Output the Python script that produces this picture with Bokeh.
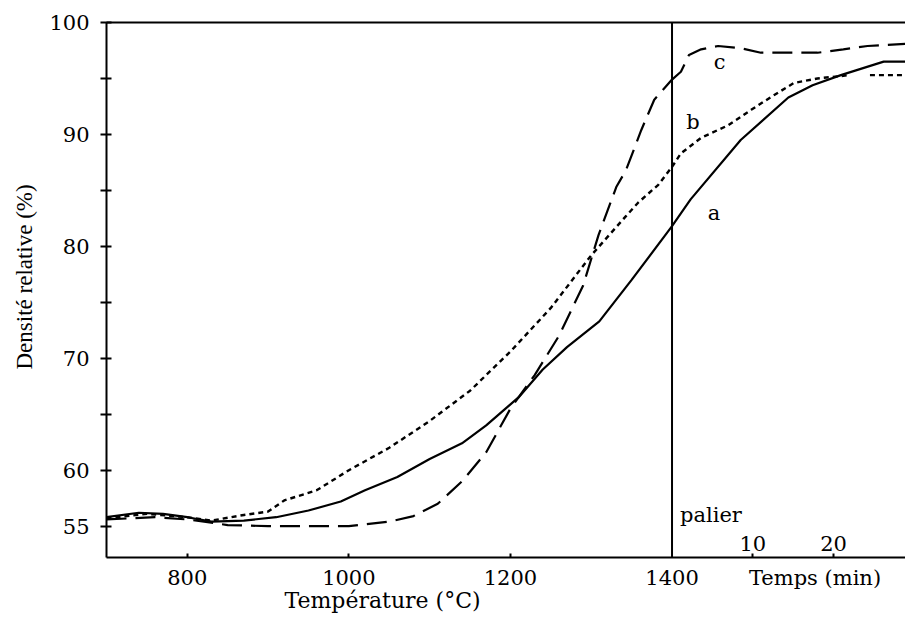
from bokeh.plotting import figure
from bokeh.models import Range1d, LinearAxis, FixedTicker, Span, Label, Title
from bokeh.core.properties import value
from bokeh.embed import file_html
from bokeh.resources import INLINE

# ---- data ----
T_START, T_PALIER, T_END = 700, 1400, 1689
MIN_SCALE = 10          # degC-equivalent width of one minute on the composite axis
Y_START, Y_END = 52.2, 100

TEMP_TICKS = [800, 1000, 1200, 1400]
TIME_TICKS = [10, 20]
TEMPS_LABEL_AT = 17.7   # minutes, centre of the "Temps (min)" caption
Y_TICKS = [55, 60, 70, 80, 90, 100]
Y_MINOR = [65, 75, 85, 95]

# curve a (solid)
TEMP_A = [700, 740, 770, 800, 830, 870, 910, 950, 990, 1020, 1060, 1100, 1140, 1170, 1210, 1240, 1270, 1310, 1350, 1400]
DENS_A = [55.8, 56.2, 56.1, 55.8, 55.4, 55.5, 55.8, 56.4, 57.2, 58.2, 59.4, 61.0, 62.4, 64.0, 66.5, 69.0, 71.0, 73.3, 77.0, 81.8]
TIME_A = [0, 2.3, 8.5, 14.4, 17.4, 20.9, 26.2, 28.9]
DENS_A_T = [81.8, 84.2, 89.5, 93.3, 94.4, 95.3, 96.5, 96.5]

# curve b (dotted)
TEMP_B = [700, 750, 800, 830, 870, 900, 920, 960, 1000, 1050, 1100, 1150, 1200, 1250, 1300, 1343, 1358, 1383, 1400]
DENS_B = [55.7, 56.1, 55.8, 55.5, 56.0, 56.3, 57.3, 58.2, 60.0, 62.0, 64.4, 67.1, 70.6, 74.5, 79.2, 82.7, 83.9, 85.5, 87.1]
TIME_B = [0, 1.1, 3.6, 6.9, 9.8, 12.6, 15.1, 18, 22, 23, 24.5, 28.9]
DENS_B_T = [87.1, 88.3, 89.7, 90.8, 92.2, 93.5, 94.6, 95.0, 95.3, float("nan"), 95.3, 95.3]

# curve c (dashed)
TEMP_C = [700, 760, 800, 850, 900, 1000, 1050, 1080, 1110, 1140, 1170, 1200, 1230, 1260, 1290, 1309, 1331, 1343, 1362, 1378, 1400]
DENS_C = [55.6, 55.8, 55.6, 55.1, 55.0, 55.0, 55.4, 55.9, 57.0, 59.0, 61.6, 65.5, 68.5, 72.0, 76.5, 81.0, 85.3, 86.8, 90.4, 93.1, 94.9]
TIME_C = [0, 1.1, 2.1, 3.6, 5.7, 8.5, 11, 18, 21.2, 24.2, 28.9]
DENS_C_T = [94.9, 95.6, 97.1, 97.6, 97.9, 97.7, 97.3, 97.3, 97.6, 97.9, 98.1]

CURVE_LABELS = ["a", "b", "c"]
CURVE_LABEL_POS = [(5.2, 83.0), (2.6, 91.1), (5.9, 96.5)]   # (minutes, density)

FONT = "DejaVu Serif"
FS = "21px"

p = figure(width=905, height=620,
           x_range=Range1d(T_START, T_END), y_range=Range1d(Y_START, Y_END),
           output_backend="svg", toolbar_location=None,
           min_border_left=104, min_border_right=0, min_border_top=22, min_border_bottom=63)
p.extra_x_ranges = {"time": Range1d((T_START - T_PALIER) / MIN_SCALE, (T_END - T_PALIER) / MIN_SCALE)}
p.grid.visible = False
p.outline_line_color = None
p.background_fill_color = "white"
p.border_fill_color = "white"

# bottom axis: labelled temperature ticks + "Temps (min)" caption; marks drawn as minor ticks
xa = p.xaxis[0]
time_ticks_T = [T_PALIER + t * MIN_SCALE for t in TIME_TICKS]
temps_T = int(round(T_PALIER + TEMPS_LABEL_AT * MIN_SCALE))
xa.ticker = FixedTicker(ticks=TEMP_TICKS + [temps_T], minor_ticks=TEMP_TICKS[:-1] + time_ticks_T)
xa.major_label_overrides = {temps_T: "Temps (min)"}
xa.major_tick_in = 0
xa.major_tick_out = 0
xa.minor_tick_in = 4
xa.minor_tick_out = 0
xa.minor_tick_line_width = 2
xa.minor_tick_line_color = "black"
xa.axis_line_width = 2
xa.major_label_standoff = 8
xa.major_label_text_font = FONT
xa.major_label_text_font_size = FS
xa.major_label_text_color = "black"

# left axis
ya = p.yaxis[0]
ya.ticker = FixedTicker(ticks=Y_TICKS, minor_ticks=Y_MINOR)
ya.major_tick_in = 5
ya.major_tick_out = 6
ya.minor_tick_in = 5
ya.minor_tick_out = 6
ya.axis_line_width = 2
ya.major_tick_line_width = 2
ya.minor_tick_line_width = 2
ya.minor_tick_line_color = "black"
ya.major_label_standoff = 11
ya.major_label_text_font = FONT
ya.major_label_text_font_size = FS
ya.major_label_text_color = "black"

# top frame line
top = LinearAxis(ticker=FixedTicker(ticks=[]), major_tick_in=0, major_tick_out=0,
                 minor_tick_in=0, minor_tick_out=0, major_label_standoff=0,
                 major_label_text_font_size="0px", axis_line_width=2)
p.add_layout(top, "above")

# axis titles
p.add_layout(Title(text="Température (°C)", align="left", offset=178, standoff=-10,
                   vertical_align="top", text_font=FONT, text_font_size="22px",
                   text_font_style="normal", text_color="black"), "below")
p.add_layout(Title(text="Densité relative (%)", align="left", offset=188, standoff=19,
                   vertical_align="bottom", text_font="Liberation Serif", text_font_size="23px",
                   text_font_style="normal", text_color="black"), "left")

# palier line
p.add_layout(Span(location=T_PALIER, dimension="height", line_color="black", line_width=2))

# curves
p.line(TEMP_A, DENS_A, line_color="black", line_width=2.2)
p.line(TIME_A, DENS_A_T, line_color="black", line_width=2.2, x_range_name="time")
p.line(TEMP_B, DENS_B, line_color="black", line_width=2.4, line_dash="5 4")
p.line(TIME_B, DENS_B_T, line_color="black", line_width=2.4, line_dash="5 4", x_range_name="time")
p.line(TEMP_C, DENS_C, line_color="black", line_width=2.2, line_dash="20 9")
p.line(TIME_C, DENS_C_T, line_color="black", line_width=2.2, line_dash="20 9", x_range_name="time")

# curve letters
for txt, (tx, ty) in zip(CURVE_LABELS, CURVE_LABEL_POS):
    p.add_layout(Label(x=tx, y=ty, x_range_name="time", text=txt, text_font=FONT,
                       text_font_size=FS, text_align="center", text_baseline="middle",
                       text_color="black"))

# time tick labels above the axis
p.text(x=TIME_TICKS, y=[Y_START] * len(TIME_TICKS), text=[str(t) for t in TIME_TICKS],
       x_range_name="time", y_offset=-14, text_font=value(FONT), text_font_size=FS,
       text_align="center", text_baseline="alphabetic", text_color="black")

# palier
p.add_layout(Label(x=0, y=Y_START, x_range_name="time", x_offset=8, y_offset=43,
                   text="palier", text_font=FONT, text_font_size=FS,
                   text_align="left", text_baseline="alphabetic", text_color="black"))

open("out.html", "w").write(file_html(p, INLINE))
